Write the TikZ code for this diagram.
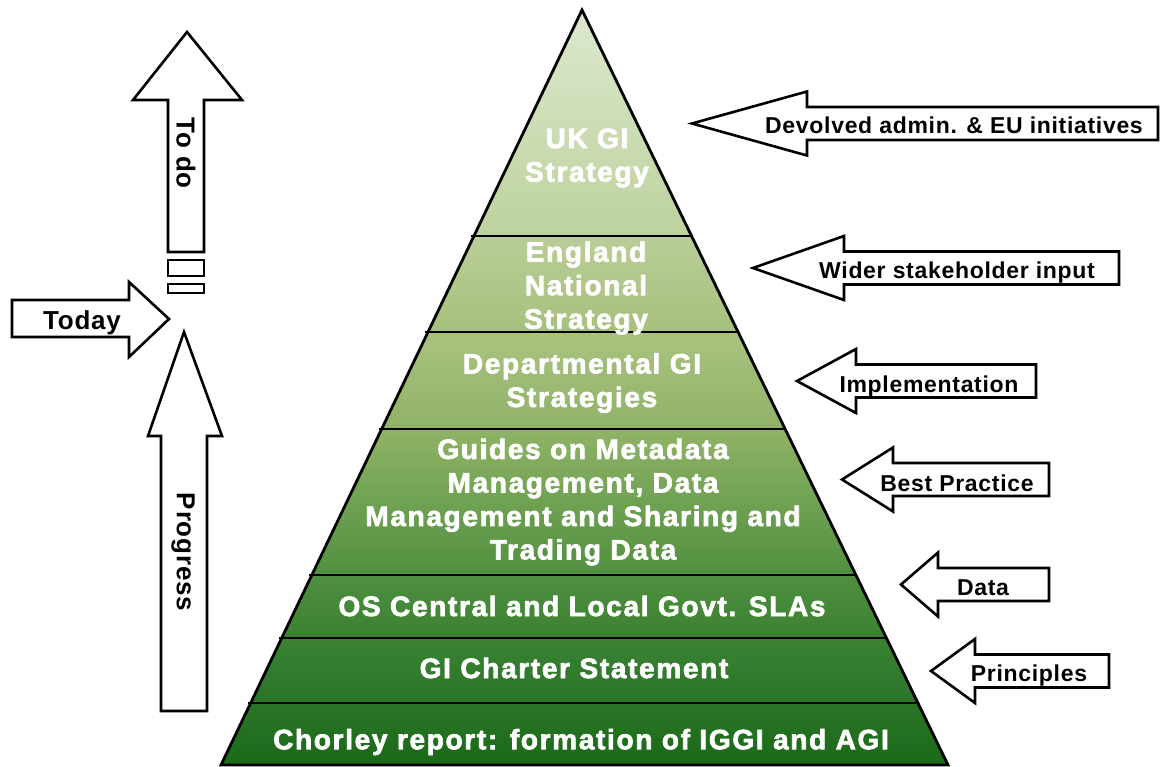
\documentclass[tikz,border=0pt]{standalone}
\usepackage{fontspec}
\setmainfont{Liberation Sans}
\newfontfamily\pyrfont{Liberation Sans}[LetterSpace=6, FakeBold=2.5]
\newfontfamily\tagfont{Liberation Sans}[LetterSpace=3]
\usetikzlibrary{calc}
\definecolor{layAtop}{HTML}{DCE8CE}
\definecolor{layAbot}{HTML}{BDD29D}
\definecolor{layBtop}{HTML}{B9CE97}
\definecolor{layBbot}{HTML}{A6C07C}
\definecolor{layCtop}{HTML}{A9C37F}
\definecolor{layCbot}{HTML}{90B268}
\definecolor{layDtop}{HTML}{90B367}
\definecolor{layDbot}{HTML}{50903F}
\definecolor{layEtop}{HTML}{4F8F40}
\definecolor{layEbot}{HTML}{3B8131}
\definecolor{layFtop}{HTML}{3B8333}
\definecolor{layFbot}{HTML}{2A7428}
\definecolor{layGtop}{HTML}{2A7526}
\definecolor{layGbot}{HTML}{1A6A18}
\def\leftblock(#1,#2)(#3:#4){\draw[blockarrow] (#1,#2) -- (#3,#2-32) -- (#3,#2-16.5) -- (#4,#2-16.5) -- (#4,#2+16.5) -- (#3,#2+16.5) -- (#3,#2+32) -- cycle;}

\begin{document}
\begin{tikzpicture}[x=1pt, y=-1pt,
	blockarrow/.style={draw=black, line width=2.6pt, fill=white, line join=miter},
	layer/.style={font=\pyrfont\bfseries\fontsize{28}{33.5}\selectfont, text=white, align=center},
	tag/.style={font=\tagfont\bfseries\fontsize{23}{27}\selectfont, anchor=base},
	sidetag/.style={font=\tagfont\bfseries\fontsize{26}{30}\selectfont}]
		%%%%% START %%%%%
		\useasboundingbox (0,0) rectangle (1161,767);
		
		\coordinate (apex) at (582,10);
		\coordinate (bl) at (221,765);
		\coordinate (br) at (948,765);
		
		% pyramid layers
		\foreach \ta/\tb/\lay in {0/0.2993/A, 0.2993/0.4265/B, 0.4265/0.5550/C, 0.5550/0.7483/D, 0.7483/0.8318/E, 0.8318/0.9179/F, 0.9179/1/G}
			\shade[top color=lay\lay top, bottom color=lay\lay bot] ($(apex)!\ta!(bl)$) -- ($(apex)!\ta!(br)$) -- ($(apex)!\tb!(br)$) -- ($(apex)!\tb!(bl)$) -- cycle;
		
		\foreach \t in {0.2993, 0.4265, 0.5550, 0.7483, 0.8318, 0.9179}
			\draw[line width=2.8pt] ($(apex)!\t!(bl)+(-3,0)$) -- ($(apex)!\t!(br)$);
		\draw[line width=2.8pt, line join=miter] (apex) -- (bl) -- (br) -- cycle;
		
		\node[layer] (uk) at (587,158) {UK GI\\Strategy};
		\node[layer] (england) at (586,288) {England\\National\\Strategy};
		\node[layer] (dept) at (582,383) {Departmental GI\\Strategies};
		\node[layer] (guides) at (583,502) {Guides on Metadata\\Management, Data\\Management and Sharing and\\Trading Data};
		\node[layer] (slas) at (582,606) {OS Central and Local Govt. SLAs};
		\node[layer] (charter) at (574,668) {GI Charter Statement};
		\node[layer] (chorley) at (581,742) {Chorley report: formation of IGGI and AGI};
		
		% inputs on the right
		\leftblock(692,123.5)(807:1158)
		\leftblock(753,268)(844:1119)
		\leftblock(797,381)(856:1036)
		\leftblock(842,479.5)(893:1049)
		\leftblock(901,584.5)(938:1049)
		\leftblock(931,671)(975:1109)
		
		\node[tag] (devolved) at (954,134) {Devolved admin. \& EU initiatives};
		\node[tag] (wider) at (957,279) {Wider stakeholder input};
		\node[tag] (implement) at (929,392) {Implementation};
		\node[tag] (practice) at (957,491) {Best Practice};
		\node[tag] (data) at (983,595) {Data};
		\node[tag] (principles) at (1029,681) {Principles};
		
		% timeline on the left
		\draw[blockarrow] (187,32) -- (242,100) -- (204,100) -- (204,252) -- (168,252) -- (168,100) -- (133,100) -- cycle;
		\draw[blockarrow] (168,260) rectangle (204,276);
		\draw[blockarrow] (168,284) rectangle (204,293);
		\draw[blockarrow] (169,319) -- (129,357) -- (129,337) -- (12,337) -- (12,300) -- (129,300) -- (129,282) -- cycle;
		\draw[blockarrow] (184,332) -- (222,436) -- (207,436) -- (207,711) -- (161,711) -- (161,436) -- (148,436) -- cycle;
		
		\node[sidetag, rotate=-90] (todo) at (186,153) {To do};
		\node[sidetag, anchor=base] (today) at (82,329) {Today};
		\node[sidetag, rotate=-90] (progress) at (183,552) {Progress};
		%%%%% END %%%%%
	\end{tikzpicture}
\end{document}
